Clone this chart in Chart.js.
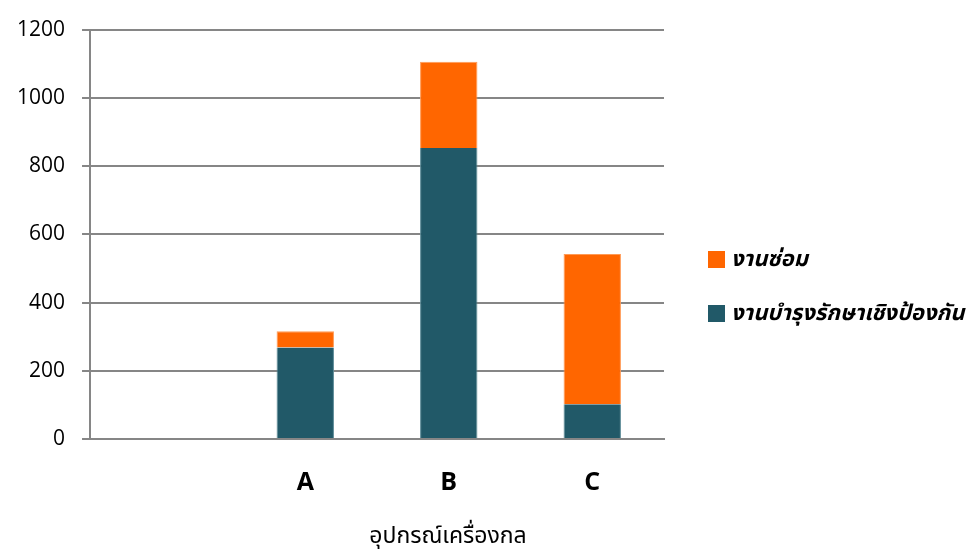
<!DOCTYPE html>
<html>
<head>
<meta charset="utf-8">
<script src="https://cdn.jsdelivr.net/npm/chart.js@4"></script>
<style>
  html, body { margin: 0; padding: 0; background: #ffffff; }
  #wrap { width: 977px; height: 553px; position: relative; }
</style>
</head>
<body>
<div id="wrap"><canvas id="chart"></canvas></div>
<script>
// Equipment categories (first slot is intentionally empty)
const categories = ['', 'A', 'B', 'C'];
// Preventive maintenance work
const preventive = [null, 268, 853, 102];
// Repair work
const repair = [null, 48, 253, 440];
// Y axis range
const yTicks = { min: 0, max: 1200, step: 200 };

const seriesNames = ['งานบำรุงรักษาเชิงป้องกัน', 'งานซ่อม'];
const seriesColors = ['#215968', '#FF6600'];
const axisTitle = 'อุปกรณ์เครื่องกล';

const gridColor = '#868686';
const fontStack = '"Open Sans", "Noto Sans", "Noto Sans Thai", "DejaVu Sans", sans-serif';

// Legend at the right (repair on top) and the category-axis title underneath
const sideLegend = {
  id: 'sideLegend',
  afterDraw(chart) {
    const ctx = chart.ctx;
    ctx.save();
    const sets = chart.data.datasets.slice().reverse();
    const rowY = [260, 314];
    sets.forEach((ds, i) => {
      const y = rowY[i];
      ctx.fillStyle = ds.backgroundColor;
      ctx.fillRect(708, y - 9, 17, 17);
      ctx.fillStyle = '#000000';
      ctx.font = 'italic bold 22px ' + fontStack;
      ctx.textAlign = 'left';
      ctx.textBaseline = 'middle';
      ctx.fillText(ds.label, 731, y);
    });
    ctx.font = '23px ' + fontStack;
    ctx.textAlign = 'center';
    ctx.textBaseline = 'middle';
    ctx.fillStyle = '#000000';
    ctx.fillText(axisTitle, 448, 536);
    ctx.restore();
  }
};

new Chart(document.getElementById('chart'), {
  type: 'bar',
  data: {
    labels: categories,
    datasets: [
      {
        label: seriesNames[0],
        data: preventive,
        backgroundColor: seriesColors[0],
        borderColor: '#5b8a96',
        borderWidth: { left: 1, right: 1, top: 0, bottom: 0 },
        borderSkipped: false
      },
      {
        label: seriesNames[1],
        data: repair,
        backgroundColor: seriesColors[1],
        borderColor: '#ff9a55',
        borderWidth: { left: 1, right: 1, top: 1, bottom: 0 },
        borderSkipped: false
      }
    ]
  },
  plugins: [sideLegend],
  options: {
    responsive: true,
    maintainAspectRatio: false,
    animation: false,
    layout: { padding: { left: 0, right: 313, top: 13, bottom: 26 } },
    datasets: { bar: { categoryPercentage: 1.0, barPercentage: 0.4 } },
    plugins: {
      tooltip: { enabled: false },
      legend: { display: false }
    },
    scales: {
      x: {
        stacked: true,
        grid: { display: false, drawTicks: false },
        border: { display: true, color: gridColor, width: 2 },
        ticks: {
          color: '#000000',
          padding: 29,
          font: { family: fontStack, size: 25, weight: 'bold' }
        }
      },
      y: {
        stacked: true,
        min: yTicks.min,
        max: yTicks.max,
        ticks: {
          stepSize: yTicks.step,
          color: '#000000',
          padding: 17,
          font: { family: fontStack, size: 21 },
          callback: (v) => String(v)
        },
        grid: { color: gridColor, lineWidth: 2, tickLength: 8, drawTicks: true },
        border: { display: true, color: gridColor, width: 2 }
      }
    }
  }
});
</script>
</body>
</html>
